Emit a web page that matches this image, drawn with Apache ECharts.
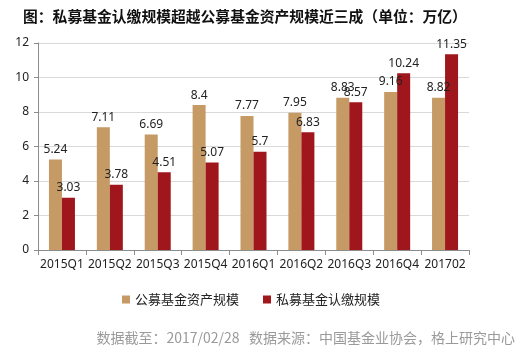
<!DOCTYPE html>
<html>
<head>
<meta charset="utf-8">
<script src="https://cdn.jsdelivr.net/npm/echarts@6/dist/echarts.min.js"></script>
<style>
  html, body { margin: 0; padding: 0; background: #fff; }
  #chart { width: 524px; height: 353px; }
</style>
</head>
<body>
<div id="chart"></div>
<script>
const categories = ['2015Q1', '2015Q2', '2015Q3', '2015Q4', '2016Q1', '2016Q2', '2016Q3', '2016Q4', '201702']
const publicFund = [5.24, 7.11, 6.69, 8.4, 7.77, 7.95, 8.83, 9.16, 8.82]
const privateFund = [3.03, 3.78, 4.51, 5.07, 5.7, 6.83, 8.57, 10.24, 11.35]

const FONT = '"Noto Sans CJK SC", "Microsoft YaHei", sans-serif'
const NUM_FONT = '"Noto Sans", Arial, sans-serif'

const chart = echarts.init(document.getElementById('chart'), null, { renderer: 'canvas' })

const labelStyle = {
    show: true,
    position: 'top',
    distance: 4,
    color: '#222',
    fontSize: 12,
    fontFamily: NUM_FONT,
}

chart.setOption({
    animation: false,
    textStyle: { fontFamily: FONT },
    title: [
        {
            text: '图：私募基金认缴规模超越公募基金资产规模近三成（单位：万亿）',
            left: 18,
            top: 4,
            textStyle: { fontSize: 14.8, fontWeight: 'bold', color: '#111', fontFamily: FONT },
        },
        {
            text: '数据截至：2017/02/28   数据来源：中国基金业协会，格上研究中心',
            right: 4,
            top: 326,
            textStyle: { fontSize: 14, fontWeight: 'normal', color: '#9a9a9a', fontFamily: FONT },
        },
    ],
    legend: {
        top: 288,
        left: 117,
        itemWidth: 8,
        itemHeight: 8,
        itemGap: 24,
        icon: 'rect',
        textStyle: { fontSize: 13, color: '#222', fontFamily: FONT },
        data: ['公募基金资产规模', '私募基金认缴规模'],
    },
    grid: { left: 38, right: 55, top: 43, bottom: 103 },
    xAxis: {
        type: 'category',
        data: categories,
        axisLine: { lineStyle: { color: '#8c8c8c' } },
        axisTick: { show: true, length: 5, lineStyle: { color: '#8c8c8c' } },
        axisLabel: { color: '#222', fontSize: 12, margin: 9, interval: 0, fontFamily: NUM_FONT },
    },
    yAxis: {
        type: 'value',
        min: 0,
        max: 12,
        interval: 2,
        axisLine: { show: true, lineStyle: { color: '#8c8c8c' } },
        axisTick: { show: true, length: 4, lineStyle: { color: '#8c8c8c' } },
        splitLine: { lineStyle: { color: '#d9d9d9' } },
        axisLabel: { color: '#222', fontSize: 12, margin: 9, fontFamily: NUM_FONT },
    },
    series: [
        {
            name: '公募基金资产规模',
            type: 'bar',
            data: publicFund,
            barWidth: 13,
            barGap: '0%',
            itemStyle: { color: '#c59a64' },
            label: labelStyle,
        },
        {
            name: '私募基金认缴规模',
            type: 'bar',
            data: privateFund,
            barWidth: 13,
            barGap: '0%',
            itemStyle: { color: '#a0161d' },
            label: labelStyle,
        },
    ],
})
</script>
</body>
</html>
